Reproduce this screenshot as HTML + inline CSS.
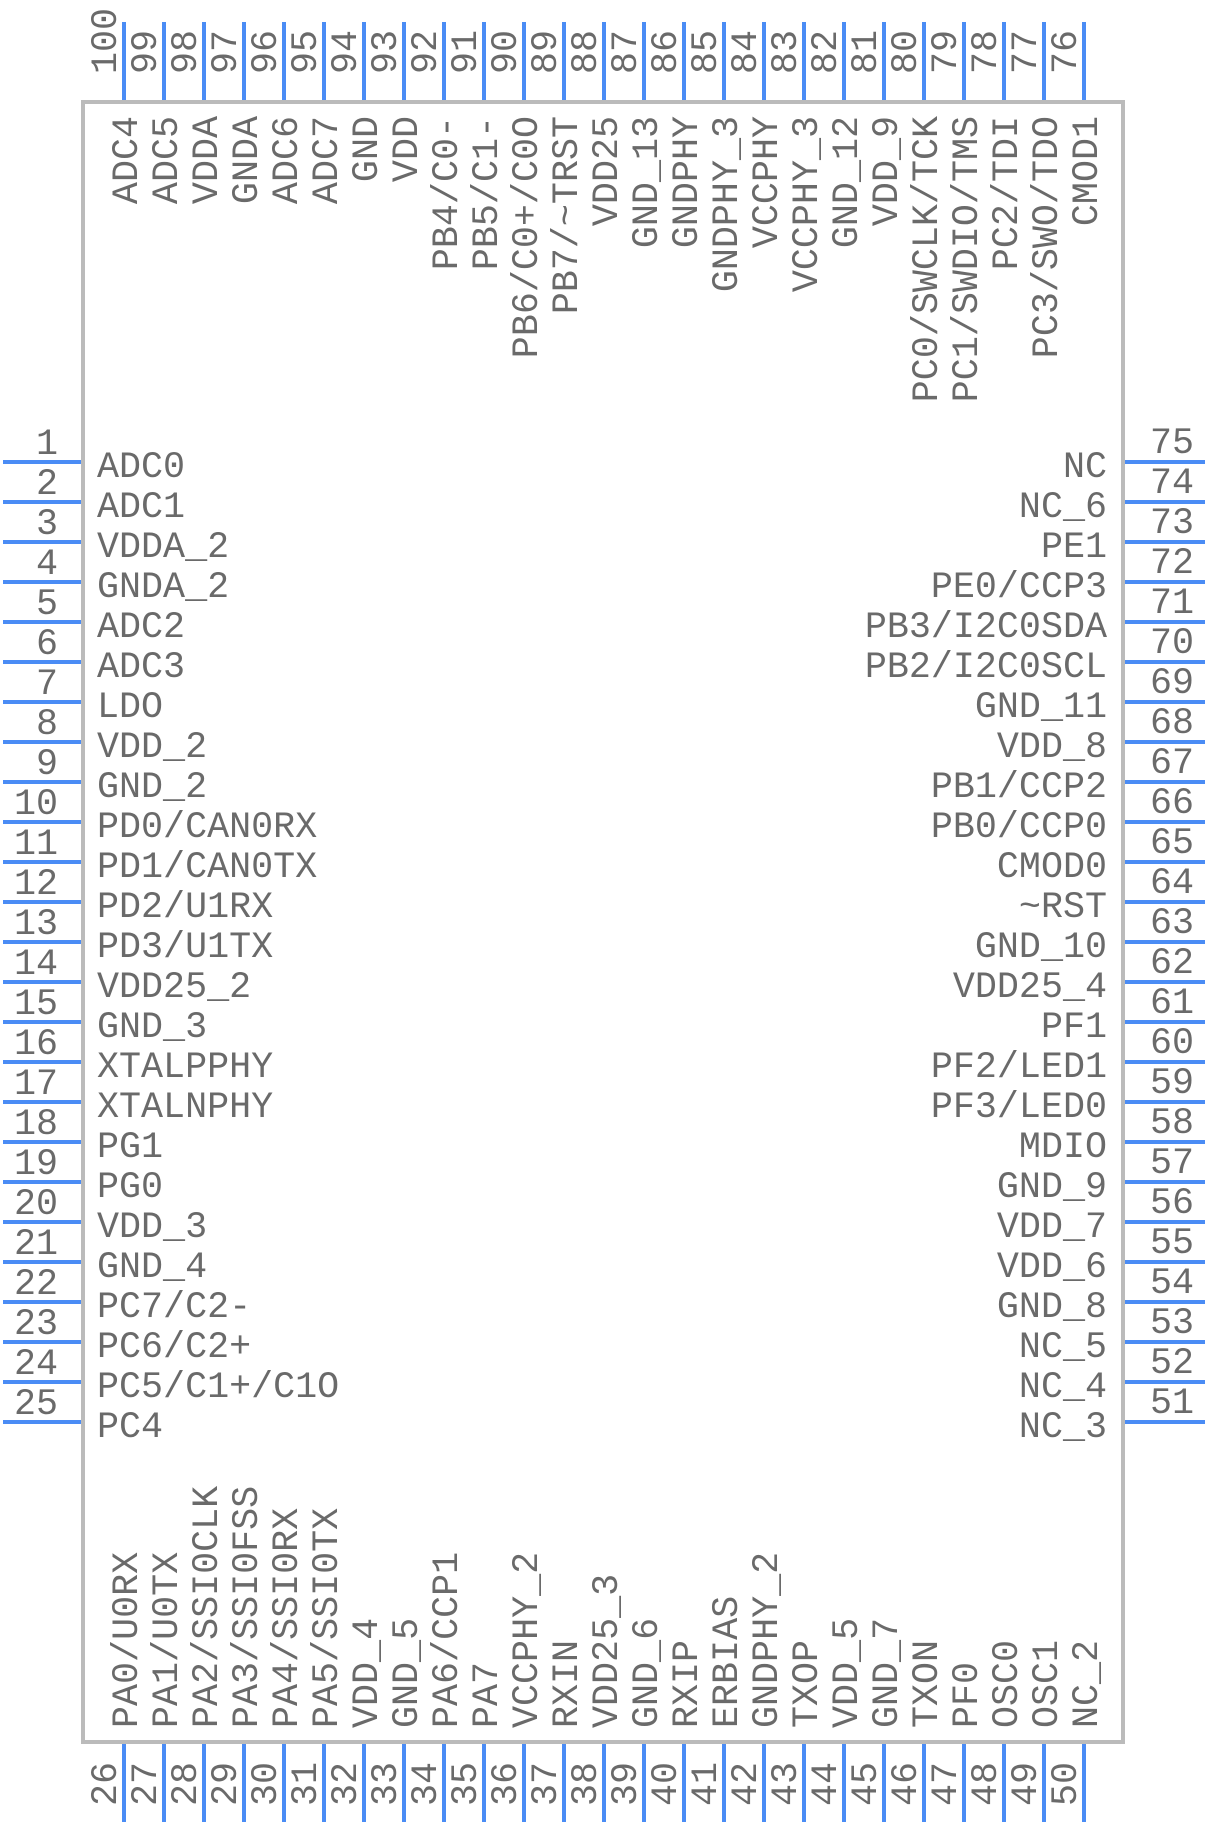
<!DOCTYPE html>
<html><head><meta charset="utf-8"><style>
html,body{margin:0;padding:0;background:#fff;}
svg{display:block;}
text{font-family:"Liberation Mono",monospace;font-size:36.7px;fill:#6a6a6a;}
.p{stroke:#4a8cf5;stroke-width:4;}
</style></head><body>
<svg width="1208" height="1826" viewBox="0 0 1208 1826" xmlns="http://www.w3.org/2000/svg">
<rect x="83" y="102" width="1040" height="1640" fill="none" stroke="#bbbbbb" stroke-width="4"/>
<g class="p">
<!-- top pins -->
<line x1="124" y1="22" x2="124" y2="100"/><line x1="164" y1="22" x2="164" y2="100"/><line x1="204" y1="22" x2="204" y2="100"/><line x1="244" y1="22" x2="244" y2="100"/><line x1="284" y1="22" x2="284" y2="100"/><line x1="324" y1="22" x2="324" y2="100"/><line x1="364" y1="22" x2="364" y2="100"/><line x1="404" y1="22" x2="404" y2="100"/><line x1="444" y1="22" x2="444" y2="100"/><line x1="484" y1="22" x2="484" y2="100"/><line x1="524" y1="22" x2="524" y2="100"/><line x1="564" y1="22" x2="564" y2="100"/><line x1="604" y1="22" x2="604" y2="100"/><line x1="644" y1="22" x2="644" y2="100"/><line x1="684" y1="22" x2="684" y2="100"/><line x1="724" y1="22" x2="724" y2="100"/><line x1="764" y1="22" x2="764" y2="100"/><line x1="804" y1="22" x2="804" y2="100"/><line x1="844" y1="22" x2="844" y2="100"/><line x1="884" y1="22" x2="884" y2="100"/><line x1="924" y1="22" x2="924" y2="100"/><line x1="964" y1="22" x2="964" y2="100"/><line x1="1004" y1="22" x2="1004" y2="100"/><line x1="1044" y1="22" x2="1044" y2="100"/><line x1="1084" y1="22" x2="1084" y2="100"/>
<!-- bottom pins -->
<line x1="124" y1="1744" x2="124" y2="1822"/><line x1="164" y1="1744" x2="164" y2="1822"/><line x1="204" y1="1744" x2="204" y2="1822"/><line x1="244" y1="1744" x2="244" y2="1822"/><line x1="284" y1="1744" x2="284" y2="1822"/><line x1="324" y1="1744" x2="324" y2="1822"/><line x1="364" y1="1744" x2="364" y2="1822"/><line x1="404" y1="1744" x2="404" y2="1822"/><line x1="444" y1="1744" x2="444" y2="1822"/><line x1="484" y1="1744" x2="484" y2="1822"/><line x1="524" y1="1744" x2="524" y2="1822"/><line x1="564" y1="1744" x2="564" y2="1822"/><line x1="604" y1="1744" x2="604" y2="1822"/><line x1="644" y1="1744" x2="644" y2="1822"/><line x1="684" y1="1744" x2="684" y2="1822"/><line x1="724" y1="1744" x2="724" y2="1822"/><line x1="764" y1="1744" x2="764" y2="1822"/><line x1="804" y1="1744" x2="804" y2="1822"/><line x1="844" y1="1744" x2="844" y2="1822"/><line x1="884" y1="1744" x2="884" y2="1822"/><line x1="924" y1="1744" x2="924" y2="1822"/><line x1="964" y1="1744" x2="964" y2="1822"/><line x1="1004" y1="1744" x2="1004" y2="1822"/><line x1="1044" y1="1744" x2="1044" y2="1822"/><line x1="1084" y1="1744" x2="1084" y2="1822"/>
<!-- left pins -->
<line x1="3" y1="462" x2="81" y2="462"/><line x1="3" y1="502" x2="81" y2="502"/><line x1="3" y1="542" x2="81" y2="542"/><line x1="3" y1="582" x2="81" y2="582"/><line x1="3" y1="622" x2="81" y2="622"/><line x1="3" y1="662" x2="81" y2="662"/><line x1="3" y1="702" x2="81" y2="702"/><line x1="3" y1="742" x2="81" y2="742"/><line x1="3" y1="782" x2="81" y2="782"/><line x1="3" y1="822" x2="81" y2="822"/><line x1="3" y1="862" x2="81" y2="862"/><line x1="3" y1="902" x2="81" y2="902"/><line x1="3" y1="942" x2="81" y2="942"/><line x1="3" y1="982" x2="81" y2="982"/><line x1="3" y1="1022" x2="81" y2="1022"/><line x1="3" y1="1062" x2="81" y2="1062"/><line x1="3" y1="1102" x2="81" y2="1102"/><line x1="3" y1="1142" x2="81" y2="1142"/><line x1="3" y1="1182" x2="81" y2="1182"/><line x1="3" y1="1222" x2="81" y2="1222"/><line x1="3" y1="1262" x2="81" y2="1262"/><line x1="3" y1="1302" x2="81" y2="1302"/><line x1="3" y1="1342" x2="81" y2="1342"/><line x1="3" y1="1382" x2="81" y2="1382"/><line x1="3" y1="1422" x2="81" y2="1422"/>
<!-- right pins -->
<line x1="1125" y1="462" x2="1205" y2="462"/><line x1="1125" y1="502" x2="1205" y2="502"/><line x1="1125" y1="542" x2="1205" y2="542"/><line x1="1125" y1="582" x2="1205" y2="582"/><line x1="1125" y1="622" x2="1205" y2="622"/><line x1="1125" y1="662" x2="1205" y2="662"/><line x1="1125" y1="702" x2="1205" y2="702"/><line x1="1125" y1="742" x2="1205" y2="742"/><line x1="1125" y1="782" x2="1205" y2="782"/><line x1="1125" y1="822" x2="1205" y2="822"/><line x1="1125" y1="862" x2="1205" y2="862"/><line x1="1125" y1="902" x2="1205" y2="902"/><line x1="1125" y1="942" x2="1205" y2="942"/><line x1="1125" y1="982" x2="1205" y2="982"/><line x1="1125" y1="1022" x2="1205" y2="1022"/><line x1="1125" y1="1062" x2="1205" y2="1062"/><line x1="1125" y1="1102" x2="1205" y2="1102"/><line x1="1125" y1="1142" x2="1205" y2="1142"/><line x1="1125" y1="1182" x2="1205" y2="1182"/><line x1="1125" y1="1222" x2="1205" y2="1222"/><line x1="1125" y1="1262" x2="1205" y2="1262"/><line x1="1125" y1="1302" x2="1205" y2="1302"/><line x1="1125" y1="1342" x2="1205" y2="1342"/><line x1="1125" y1="1382" x2="1205" y2="1382"/><line x1="1125" y1="1422" x2="1205" y2="1422"/>
</g>

<!-- left numbers -->
<g text-anchor="end">
<text x="58" y="454">1</text><text x="58" y="494">2</text><text x="58" y="534">3</text><text x="58" y="574">4</text><text x="58" y="614">5</text><text x="58" y="654">6</text><text x="58" y="694">7</text><text x="58" y="734">8</text><text x="58" y="774">9</text><text x="58" y="814">10</text><text x="58" y="854">11</text><text x="58" y="894">12</text><text x="58" y="934">13</text><text x="58" y="974">14</text><text x="58" y="1014">15</text><text x="58" y="1054">16</text><text x="58" y="1094">17</text><text x="58" y="1134">18</text><text x="58" y="1174">19</text><text x="58" y="1214">20</text><text x="58" y="1254">21</text><text x="58" y="1294">22</text><text x="58" y="1334">23</text><text x="58" y="1374">24</text><text x="58" y="1414">25</text>
</g>
<!-- left labels -->
<g>
<text x="97" y="477">ADC0</text><text x="97" y="517">ADC1</text><text x="97" y="557">VDDA_2</text><text x="97" y="597">GNDA_2</text><text x="97" y="637">ADC2</text><text x="97" y="677">ADC3</text><text x="97" y="717">LDO</text><text x="97" y="757">VDD_2</text><text x="97" y="797">GND_2</text><text x="97" y="837">PD0/CAN0RX</text><text x="97" y="877">PD1/CAN0TX</text><text x="97" y="917">PD2/U1RX</text><text x="97" y="957">PD3/U1TX</text><text x="97" y="997">VDD25_2</text><text x="97" y="1037">GND_3</text><text x="97" y="1077">XTALPPHY</text><text x="97" y="1117">XTALNPHY</text><text x="97" y="1157">PG1</text><text x="97" y="1197">PG0</text><text x="97" y="1237">VDD_3</text><text x="97" y="1277">GND_4</text><text x="97" y="1317">PC7/C2-</text><text x="97" y="1357">PC6/C2+</text><text x="97" y="1397">PC5/C1+/C1O</text><text x="97" y="1437">PC4</text>
</g>
<!-- right numbers -->
<g>
<text x="1150" y="453">75</text><text x="1150" y="493">74</text><text x="1150" y="533">73</text><text x="1150" y="573">72</text><text x="1150" y="613">71</text><text x="1150" y="653">70</text><text x="1150" y="693">69</text><text x="1150" y="733">68</text><text x="1150" y="773">67</text><text x="1150" y="813">66</text><text x="1150" y="853">65</text><text x="1150" y="893">64</text><text x="1150" y="933">63</text><text x="1150" y="973">62</text><text x="1150" y="1013">61</text><text x="1150" y="1053">60</text><text x="1150" y="1093">59</text><text x="1150" y="1133">58</text><text x="1150" y="1173">57</text><text x="1150" y="1213">56</text><text x="1150" y="1253">55</text><text x="1150" y="1293">54</text><text x="1150" y="1333">53</text><text x="1150" y="1373">52</text><text x="1150" y="1413">51</text>
</g>
<!-- right labels -->
<g text-anchor="end">
<text x="1107" y="477">NC</text><text x="1107" y="517">NC_6</text><text x="1107" y="557">PE1</text><text x="1107" y="597">PE0/CCP3</text><text x="1107" y="637">PB3/I2C0SDA</text><text x="1107" y="677">PB2/I2C0SCL</text><text x="1107" y="717">GND_11</text><text x="1107" y="757">VDD_8</text><text x="1107" y="797">PB1/CCP2</text><text x="1107" y="837">PB0/CCP0</text><text x="1107" y="877">CMOD0</text><text x="1107" y="917">~RST</text><text x="1107" y="957">GND_10</text><text x="1107" y="997">VDD25_4</text><text x="1107" y="1037">PF1</text><text x="1107" y="1077">PF2/LED1</text><text x="1107" y="1117">PF3/LED0</text><text x="1107" y="1157">MDIO</text><text x="1107" y="1197">GND_9</text><text x="1107" y="1237">VDD_7</text><text x="1107" y="1277">VDD_6</text><text x="1107" y="1317">GND_8</text><text x="1107" y="1357">NC_5</text><text x="1107" y="1397">NC_4</text><text x="1107" y="1437">NC_3</text>
</g>
<!-- top numbers -->
<g>
<text transform="translate(116,74) rotate(-90)">100</text><text transform="translate(156,74) rotate(-90)">99</text><text transform="translate(196,74) rotate(-90)">98</text><text transform="translate(236,74) rotate(-90)">97</text><text transform="translate(276,74) rotate(-90)">96</text><text transform="translate(316,74) rotate(-90)">95</text><text transform="translate(356,74) rotate(-90)">94</text><text transform="translate(396,74) rotate(-90)">93</text><text transform="translate(436,74) rotate(-90)">92</text><text transform="translate(476,74) rotate(-90)">91</text><text transform="translate(516,74) rotate(-90)">90</text><text transform="translate(556,74) rotate(-90)">89</text><text transform="translate(596,74) rotate(-90)">88</text><text transform="translate(636,74) rotate(-90)">87</text><text transform="translate(676,74) rotate(-90)">86</text><text transform="translate(716,74) rotate(-90)">85</text><text transform="translate(756,74) rotate(-90)">84</text><text transform="translate(796,74) rotate(-90)">83</text><text transform="translate(836,74) rotate(-90)">82</text><text transform="translate(876,74) rotate(-90)">81</text><text transform="translate(916,74) rotate(-90)">80</text><text transform="translate(956,74) rotate(-90)">79</text><text transform="translate(996,74) rotate(-90)">78</text><text transform="translate(1036,74) rotate(-90)">77</text><text transform="translate(1076,74) rotate(-90)">76</text>
</g>
<!-- top labels -->
<g text-anchor="end">
<text transform="translate(137,116) rotate(-90)">ADC4</text><text transform="translate(177,116) rotate(-90)">ADC5</text><text transform="translate(217,116) rotate(-90)">VDDA</text><text transform="translate(257,116) rotate(-90)">GNDA</text><text transform="translate(297,116) rotate(-90)">ADC6</text><text transform="translate(337,116) rotate(-90)">ADC7</text><text transform="translate(377,116) rotate(-90)">GND</text><text transform="translate(417,116) rotate(-90)">VDD</text><text transform="translate(457,116) rotate(-90)">PB4/C0-</text><text transform="translate(497,116) rotate(-90)">PB5/C1-</text><text transform="translate(537,116) rotate(-90)">PB6/C0+/C0O</text><text transform="translate(577,116) rotate(-90)">PB7/~TRST</text><text transform="translate(617,116) rotate(-90)">VDD25</text><text transform="translate(657,116) rotate(-90)">GND_13</text><text transform="translate(697,116) rotate(-90)">GNDPHY</text><text transform="translate(737,116) rotate(-90)">GNDPHY_3</text><text transform="translate(777,116) rotate(-90)">VCCPHY</text><text transform="translate(817,116) rotate(-90)">VCCPHY_3</text><text transform="translate(857,116) rotate(-90)">GND_12</text><text transform="translate(897,116) rotate(-90)">VDD_9</text><text transform="translate(937,116) rotate(-90)">PC0/SWCLK/TCK</text><text transform="translate(977,116) rotate(-90)">PC1/SWDIO/TMS</text><text transform="translate(1017,116) rotate(-90)">PC2/TDI</text><text transform="translate(1057,116) rotate(-90)">PC3/SWO/TDO</text><text transform="translate(1097,116) rotate(-90)">CMOD1</text>
</g>
<!-- bottom numbers -->
<g>
<text transform="translate(116,1806) rotate(-90)">26</text><text transform="translate(156,1806) rotate(-90)">27</text><text transform="translate(196,1806) rotate(-90)">28</text><text transform="translate(236,1806) rotate(-90)">29</text><text transform="translate(276,1806) rotate(-90)">30</text><text transform="translate(316,1806) rotate(-90)">31</text><text transform="translate(356,1806) rotate(-90)">32</text><text transform="translate(396,1806) rotate(-90)">33</text><text transform="translate(436,1806) rotate(-90)">34</text><text transform="translate(476,1806) rotate(-90)">35</text><text transform="translate(516,1806) rotate(-90)">36</text><text transform="translate(556,1806) rotate(-90)">37</text><text transform="translate(596,1806) rotate(-90)">38</text><text transform="translate(636,1806) rotate(-90)">39</text><text transform="translate(676,1806) rotate(-90)">40</text><text transform="translate(716,1806) rotate(-90)">41</text><text transform="translate(756,1806) rotate(-90)">42</text><text transform="translate(796,1806) rotate(-90)">43</text><text transform="translate(836,1806) rotate(-90)">44</text><text transform="translate(876,1806) rotate(-90)">45</text><text transform="translate(916,1806) rotate(-90)">46</text><text transform="translate(956,1806) rotate(-90)">47</text><text transform="translate(996,1806) rotate(-90)">48</text><text transform="translate(1036,1806) rotate(-90)">49</text><text transform="translate(1076,1806) rotate(-90)">50</text>
</g>
<!-- bottom labels -->
<g>
<text transform="translate(137,1728) rotate(-90)">PA0/U0RX</text><text transform="translate(177,1728) rotate(-90)">PA1/U0TX</text><text transform="translate(217,1728) rotate(-90)">PA2/SSI0CLK</text><text transform="translate(257,1728) rotate(-90)">PA3/SSI0FSS</text><text transform="translate(297,1728) rotate(-90)">PA4/SSI0RX</text><text transform="translate(337,1728) rotate(-90)">PA5/SSI0TX</text><text transform="translate(377,1728) rotate(-90)">VDD_4</text><text transform="translate(417,1728) rotate(-90)">GND_5</text><text transform="translate(457,1728) rotate(-90)">PA6/CCP1</text><text transform="translate(497,1728) rotate(-90)">PA7</text><text transform="translate(537,1728) rotate(-90)">VCCPHY_2</text><text transform="translate(577,1728) rotate(-90)">RXIN</text><text transform="translate(617,1728) rotate(-90)">VDD25_3</text><text transform="translate(657,1728) rotate(-90)">GND_6</text><text transform="translate(697,1728) rotate(-90)">RXIP</text><text transform="translate(737,1728) rotate(-90)">ERBIAS</text><text transform="translate(777,1728) rotate(-90)">GNDPHY_2</text><text transform="translate(817,1728) rotate(-90)">TXOP</text><text transform="translate(857,1728) rotate(-90)">VDD_5</text><text transform="translate(897,1728) rotate(-90)">GND_7</text><text transform="translate(937,1728) rotate(-90)">TXON</text><text transform="translate(977,1728) rotate(-90)">PF0</text><text transform="translate(1017,1728) rotate(-90)">OSC0</text><text transform="translate(1057,1728) rotate(-90)">OSC1</text><text transform="translate(1097,1728) rotate(-90)">NC_2</text>
</g>
</svg>
</body></html>
